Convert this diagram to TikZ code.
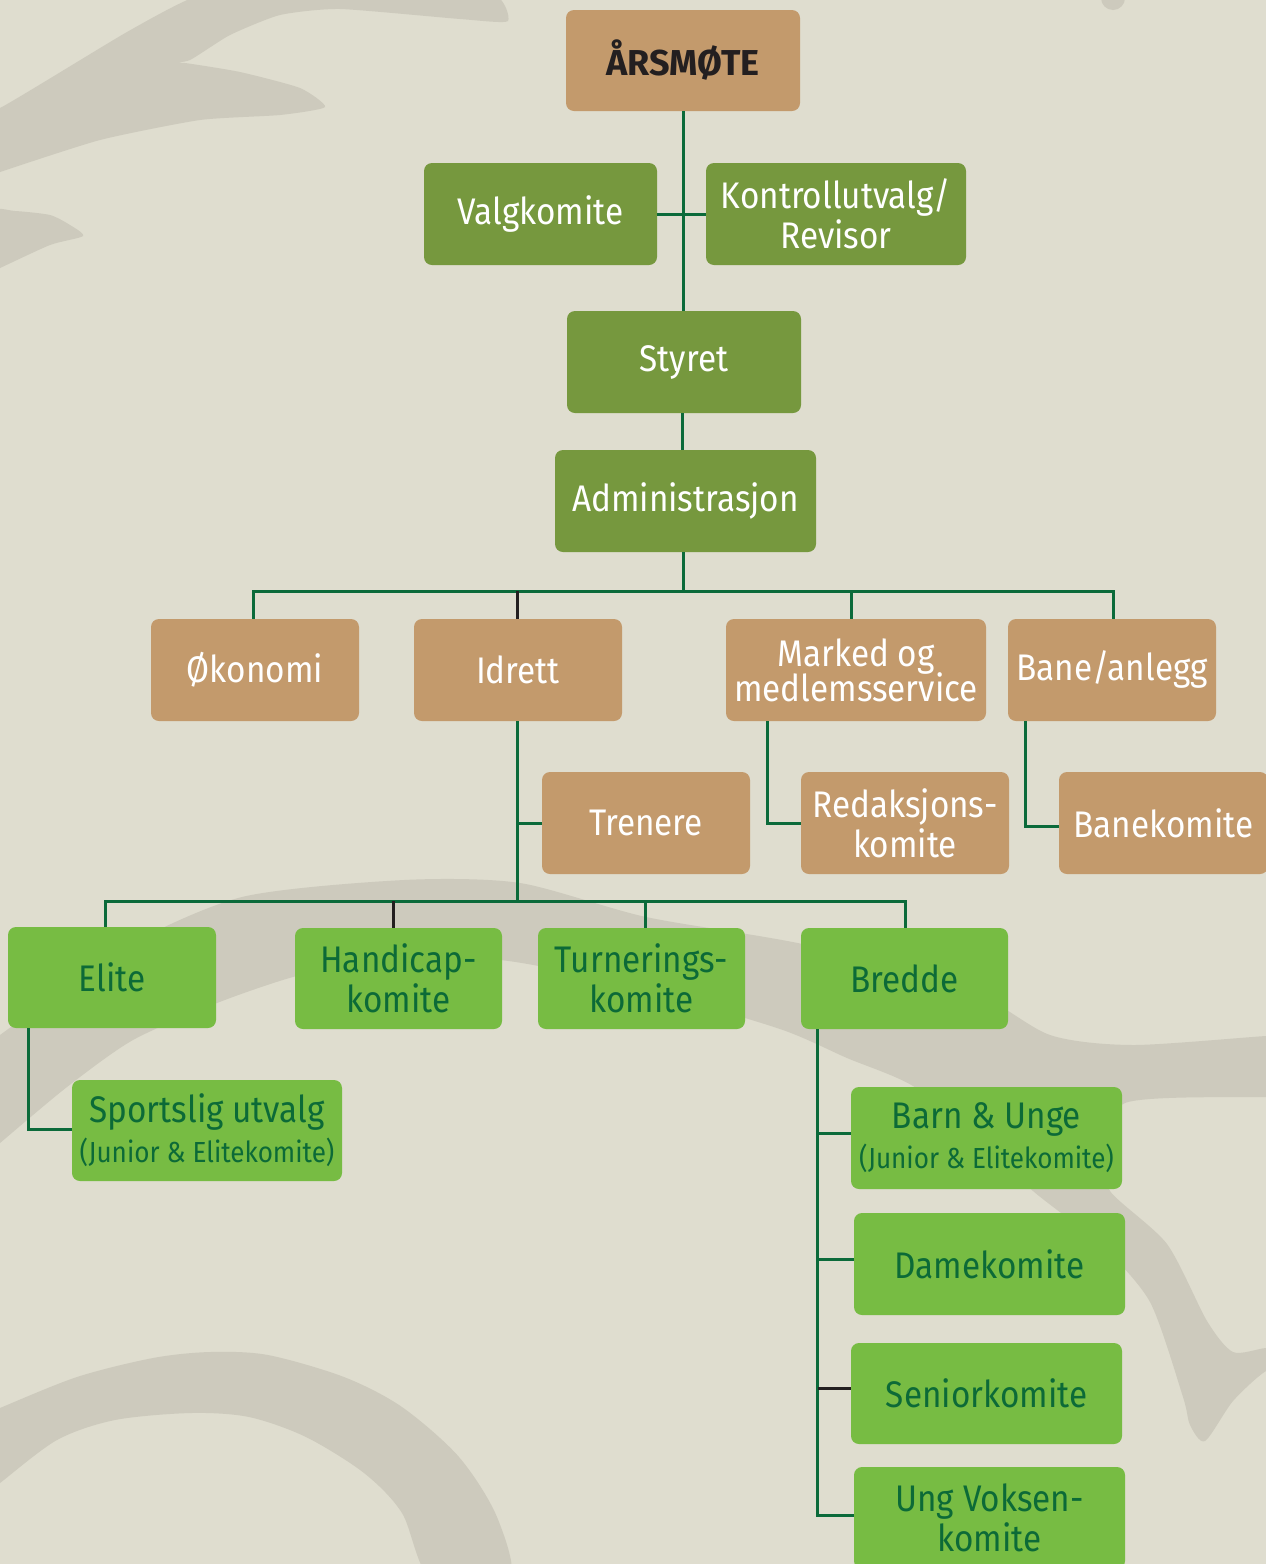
\documentclass[tikz,border=0pt]{standalone}
\usepackage{fontspec}
\setmainfont[FakeStretch=0.9]{Fira Sans}
\newfontfamily\headfont{Fira Sans}
\definecolor{bgc}{HTML}{DFDDCF}
\definecolor{swirl}{HTML}{CDCABD}
\definecolor{tanc}{HTML}{C39A6C}
\definecolor{olivec}{HTML}{76983E}
\definecolor{limec}{HTML}{77BC43}
\definecolor{darkg}{HTML}{0C6A37}
\definecolor{linec}{HTML}{0B6A3A}
\definecolor{inkc}{HTML}{231F20}
\tikzset{
  box/.style={rounded corners=8pt, inner sep=0pt, align=center, font=\fontsize{37}{40}\selectfont},
  tanbox/.style={box, fill=tanc, text=white},
  olivebox/.style={box, fill=olivec, text=white},
  limebox/.style={box, fill=limec, text=darkg},
  conn/.style={draw=linec, line width=3pt},
  connk/.style={draw=inkc, line width=3pt},
}
\newcommand{\subline}[1]{{\fontsize{29}{30}\selectfont #1}}
\begin{document}
\begin{tikzpicture}[x=1pt,y=-1pt]
\useasboundingbox (0,0) rectangle (1266,1564);
\clip (0,0) rectangle (1266,1564);
\fill[bgc] (0,0) rectangle (1266,1564);
% background swirls
\fill[swirl] plot[smooth cycle, tension=0.35] coordinates {(-10,100) (0,108) (127,32) (200,-5) (300,-20) (485,-10) (508,21) (460,19) (340,9) (280,15) (230,35) (190,60) (170,63) (185,63) (240,72) (300,88) (325,107) (280,115) (200,120) (100,140) (0,172) (-10,176)};
\fill[swirl] plot[smooth cycle, tension=0.4] coordinates {(-10,212) (15,211) (50,215) (70,225) (83,236) (50,245) (0,268) (-10,272)};
\fill[swirl] (1113,-2) circle (12);
\fill[swirl] plot[smooth cycle, tension=0.45] coordinates {(-20,1050) (0,1035) (120,950) (242,897) (404,880) (520,883) (646,917) (807,945) (969,990) (1050,1035) (1133,1045) (1266,1036) (1290,1036) (1290,1097) (1266,1097) (1125,1103) (1112,1160) (1110,1191) (1167,1244) (1207,1321) (1233,1352) (1266,1348) (1290,1350) (1290,1368) (1266,1371) (1233,1401) (1205,1441) (1190,1425) (1183,1397) (1150,1302) (1100,1244) (1033,1191) (980,1140) (913,1086) (847,1058) (780,1029) (646,990) (500,960) (363,963) (293,977) (217,1003) (133,1040) (67,1087) (0,1143) (-20,1160)};
\fill[swirl] plot[smooth cycle, tension=0.5] coordinates {(-10,1413) (0,1408) (77,1377) (153,1358) (210,1352) (268,1355) (344,1377) (402,1407) (459,1457) (497,1517) (509,1580) (432,1580) (402,1513) (364,1473) (306,1437) (249,1417) (191,1413) (115,1420) (57,1440) (0,1483) (-10,1490)};
% nodes
\node[tanbox, text=inkc, font=\fontsize{36}{40}\headfont\bfseries, minimum width=234pt, minimum height=101pt] (arsmote) at (683,60.5) {ÅRSMØTE};
\node[olivebox, minimum width=233pt, minimum height=102pt] (valg) at (540.5,214) {Valgkomite};
\node[olivebox, minimum width=260pt, minimum height=102pt] (kontroll) at (836,214) {Kontrollutvalg/\\Revisor};
\node[olivebox, minimum width=234pt, minimum height=102pt] (styret) at (684,362) {Styret};
\node[olivebox, minimum width=261pt, minimum height=102pt] (admin) at (685.5,501) {Administrasjon};
\node[tanbox, minimum width=208pt, minimum height=102pt] (okonomi) at (255,670) {Økonomi};
\node[tanbox, minimum width=208pt, minimum height=102pt] (idrett) at (518,670) {Idrett};
\node[tanbox, minimum width=260pt, minimum height=102pt] (marked) at (856,670) {Marked og\\[-5pt]medlemsservice};
\node[tanbox, minimum width=208pt, minimum height=102pt] (bane) at (1112,670) {Bane/anlegg};
\node[tanbox, minimum width=208pt, minimum height=102pt] (trenere) at (646,823) {Trenere};
\node[tanbox, minimum width=208pt, minimum height=102pt] (redaksjon) at (905,823) {Redaksjons-\\komite};
\node[tanbox, minimum width=209pt, minimum height=102pt] (banekomite) at (1163.5,823) {Banekomite};
\node[limebox, minimum width=208pt, minimum height=101pt] (elite) at (112,977.5) {Elite};
\node[limebox, minimum width=207pt, minimum height=101pt] (handicap) at (398.5,978.5) {Handicap-\\komite};
\node[limebox, minimum width=207pt, minimum height=101pt] (turnering) at (641.5,978.5) {Turnerings-\\komite};
\node[limebox, minimum width=207pt, minimum height=101pt] (bredde) at (904.5,978.5) {Bredde};
\node[limebox, minimum width=270pt, minimum height=101pt] (sportslig) at (207,1130.5) {Sportslig utvalg\\\subline{(Junior \& Elitekomite)}};
\node[limebox, minimum width=271pt, minimum height=102pt] (barn) at (986.5,1138) {Barn \& Unge\\\subline{(Junior \& Elitekomite)}};
\node[limebox, minimum width=271pt, minimum height=102pt] (dame) at (989.5,1264) {Damekomite};
\node[limebox, minimum width=271pt, minimum height=101pt] (senior) at (986.5,1393.5) {Seniorkomite};
\node[limebox, minimum width=271pt, minimum height=102pt] (ung) at (989.5,1518) {Ung Voksen-\\komite};
% connectors
\draw[conn] (arsmote.south) -- (arsmote.south |- styret.north);
\draw[conn] (valg.east) -- (kontroll.west);
\draw[conn] ([xshift=-2pt]styret.south) -- ([xshift=-2pt]styret.south |- admin.north);
\coordinate (bus1) at (683,591);
\draw[conn] ([xshift=-2.5pt]admin.south) -- (bus1);
\draw[conn] ([xshift=-2pt]okonomi.north) |- (bus1) -| ([xshift=1pt]bane.north);
\draw[conn] ([xshift=-5pt]marked.north) -- ([xshift=-5pt]marked.north |- bus1);
\draw[connk] ([xshift=-1pt]idrett.north) -- ([xshift=-1pt]idrett.north |- bus1);
\coordinate (bus2) at (517,901);
\draw[conn] ([xshift=-1pt]idrett.south) -- (bus2);
\draw[conn] ([xshift=-1pt]idrett.south |- trenere.west) -- (trenere.west);
\draw[conn] ([xshift=-7pt]elite.north) |- (bus2) -| ([xshift=0.5pt]bredde.north);
\draw[connk] ([xshift=-5.5pt]handicap.north) -- ([xshift=-5.5pt]handicap.north |- bus2);
\draw[conn] ([xshift=3.5pt]turnering.north) -- ([xshift=3.5pt]turnering.north |- bus2);
\draw[conn] ([xshift=42pt]marked.south west) |- (redaksjon.west);
\draw[conn] ([xshift=18pt]bane.south west) |- ([yshift=-3pt]banekomite.west);
\draw[conn] ([xshift=21pt]elite.south west) |- ([yshift=1.5pt]sportslig.west);
\coordinate (bl) at ([xshift=17pt]bredde.south west);
\draw[conn] (bl) |- ([yshift=3pt]ung.west);
\draw[conn] ([yshift=5pt]bl |- barn.west) -- ([yshift=5pt]barn.west);
\draw[conn] ([yshift=5pt]bl |- dame.west) -- ([yshift=5pt]dame.west);
\draw[connk] ([yshift=5.5pt]bl |- senior.west) -- ([yshift=5.5pt]senior.west);
\end{tikzpicture}
\end{document}
